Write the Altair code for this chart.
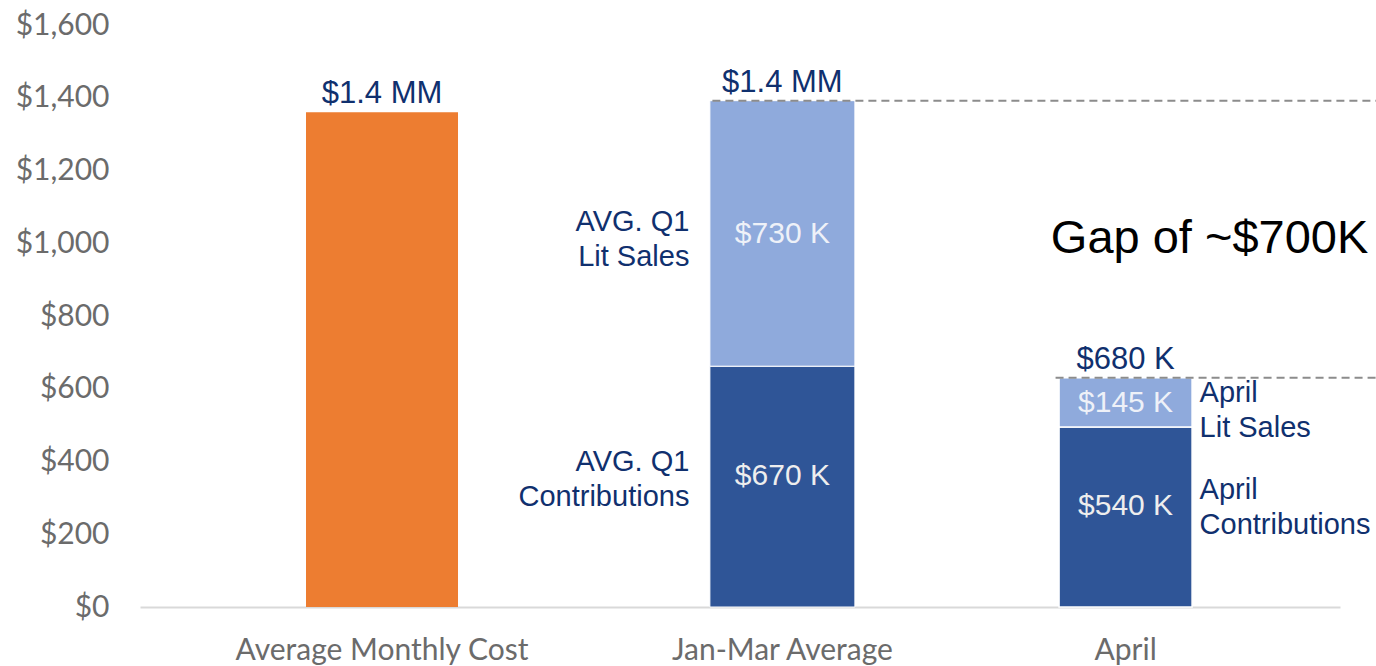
import altair as alt
import pandas as pd

# ---------------- data ----------------
categories = ["Average Monthly Cost", "Jan-Mar Average", "April"]
# blank slots that give the uneven spacing between the three columns
blank = [" " * i for i in range(1, 18)]
domain = (blank[0:3] + [categories[0]] + blank[3:9] + [categories[1]] + blank[9:14]
          + [categories[2]] + blank[14:17])

cost_value = [1360]
stack_categories = ["Jan-Mar Average", "April"]
contributions = [662, 495]
lit_sales = [730, 135]
series_names = ["Contributions", "Lit Sales"]

total_labels = ["$1.4 MM", "$1.4 MM", "$680 K"]
contrib_labels = ["$670 K", "$540 K"]
lit_labels = ["$730 K", "$145 K"]
contrib_side = ["AVG. Q1\nContributions", "April\nContributions"]
lit_side = ["AVG. Q1\nLit Sales", "April\nLit Sales"]
gap_label = "Gap of ~$700K"
y_ticks = [0, 200, 400, 600, 800, 1000, 1200, 1400, 1600]

# ---------------- tables ----------------
cost_df = pd.DataFrame({"category": [categories[0]], "value": cost_value})

rows = []
for cat, c, l, cl, ll, cs, ls in zip(stack_categories, contributions, lit_sales,
                                      contrib_labels, lit_labels, contrib_side, lit_side):
    rows.append({"category": cat, "series": series_names[0], "y0": 0, "y1": c,
                 "mid": c / 2, "label": cl, "side": cs})
    rows.append({"category": cat, "series": series_names[1], "y0": c, "y1": c + l,
                 "mid": c + l / 2, "label": ll, "side": ls})
stack_df = pd.DataFrame(rows)

totals = [cost_value[0]] + [c + l for c, l in zip(contributions, lit_sales)]
total_df = pd.DataFrame({"category": categories, "total": totals, "label": total_labels})
rule_df = total_df[total_df["category"] != categories[0]]
gap_df = pd.DataFrame({"category": ["April"], "y": [(totals[1] + totals[2]) / 2],
                       "label": [gap_label]})

NAVY = "#10306E"
FONT = "Liberation Sans"
AXIS_GRAY = "#6B6B6B"

x_enc = alt.X(
    "category:N",
    sort=domain,
    scale=alt.Scale(domain=domain, paddingInner=0, paddingOuter=0.49, align=0.746),
    axis=alt.Axis(values=categories, title=None, labelAngle=0, ticks=False,
                  domainColor="#D9D9D9", domainWidth=2, labelFont="Lato",
                  labelFontSize=30, labelColor=AXIS_GRAY, labelPadding=28,
                  labelLimit=0, labelOverlap=False, grid=False),
)
y_scale = alt.Scale(domain=[0, 1600], nice=False, zero=True)
y_axis = alt.Axis(values=y_ticks, format="$,.0f", title=None, ticks=False, domain=False,
                  grid=False, labelFont="Lato", labelFontSize=30, labelColor=AXIS_GRAY,
                  labelPadding=31)

color_scale = alt.Scale(domain=series_names, range=["#2F5597", "#8FAADC"])

cost_bar = alt.Chart(cost_df).mark_bar(width=152, color="#ED7D31").encode(
    x=x_enc, y=alt.Y("value:Q", scale=y_scale, axis=y_axis)
)

stack_base = alt.Chart(stack_df)
stack_jan = stack_base.transform_filter(alt.datum.category == "Jan-Mar Average").mark_bar(
    width=145, stroke="white", strokeWidth=1).encode(
    x=x_enc, y=alt.Y("y0:Q", scale=y_scale, axis=y_axis), y2="y1:Q",
    color=alt.Color("series:N", scale=color_scale, legend=None))
stack_apr = stack_base.transform_filter(alt.datum.category == "April").mark_bar(
    width=133, stroke="white", strokeWidth=1.5).encode(
    x=x_enc, y=alt.Y("y0:Q", scale=y_scale, axis=y_axis), y2="y1:Q",
    color=alt.Color("series:N", scale=color_scale, legend=None))

rules = alt.Chart(rule_df).mark_rule(color="#8C8C8C", strokeDash=[8, 5], strokeWidth=2,
                                     xOffset=-70).encode(
    x=x_enc, x2=alt.value(1236), y=alt.Y("total:Q", scale=y_scale))

top_text = alt.Chart(total_df).mark_text(font=FONT, fontSize=31, color=NAVY,
                                         baseline="alphabetic", dy=-9).encode(
    x=x_enc, y=alt.Y("total:Q", scale=y_scale), text="label:N")

contrib_val = stack_base.transform_filter(alt.datum.series == "Contributions").mark_text(
    font=FONT, fontSize=30, color="#EEEEEE", baseline="middle", dy=-11).encode(
    x=x_enc, y=alt.Y("mid:Q", scale=y_scale), text="label:N")
lit_val = stack_base.transform_filter(alt.datum.series == "Lit Sales").mark_text(
    font=FONT, fontSize=30, color="#EEF1F8", baseline="middle", dy=1).encode(
    x=x_enc, y=alt.Y("mid:Q", scale=y_scale), text="label:N")

def side_layer(cat, series, align, dx, dy):
    return stack_base.transform_filter(
        (alt.datum.category == cat) & (alt.datum.series == series)
    ).mark_text(font=FONT, fontSize=29, color=NAVY, baseline="middle", align=align,
                dx=dx, dy=dy, lineBreak="\n", lineHeight=35).encode(
        x=x_enc, y=alt.Y("mid:Q", scale=y_scale), text="side:N")

side_jan_lit = side_layer("Jan-Mar Average", "Lit Sales", "right", -93, -11)
side_jan_con = side_layer("Jan-Mar Average", "Contributions", "right", -93, -25)
side_apr_lit = side_layer("April", "Lit Sales", "left", 74, -9)
side_apr_con = side_layer("April", "Contributions", "left", 74, -27)

gap_text = alt.Chart(gap_df).mark_text(font=FONT, fontSize=47, color="black",
                                       baseline="middle", align="center", dx=84).encode(
    x=x_enc, y=alt.Y("y:Q", scale=y_scale), text="label:N")

chart = alt.layer(
    cost_bar, stack_jan, stack_apr, rules, top_text, contrib_val, lit_val,
    side_jan_lit, side_jan_con, side_apr_lit, side_apr_con, gap_text
).properties(
    width=1200, height=582,
    padding={"left": 140, "top": 25, "right": 36, "bottom": 59},
    autosize=alt.AutoSizeParams(type="none"),
    background="white",
).configure_view(stroke=None)

chart.save("out.html", embed_options={"renderer": "svg", "actions": False})
